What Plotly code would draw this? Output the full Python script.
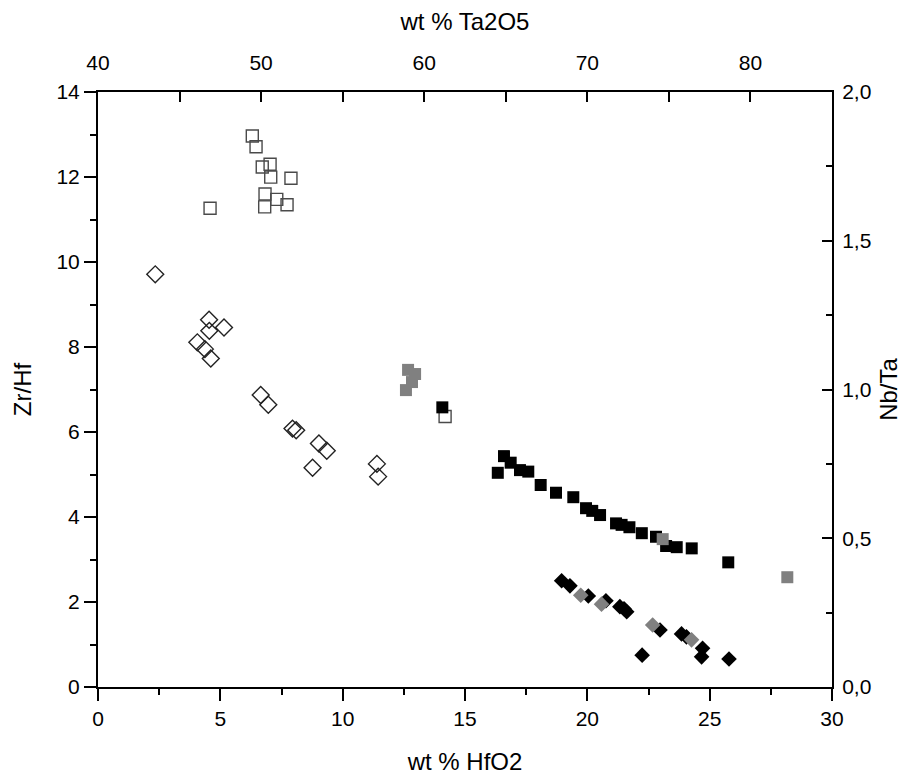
import plotly.graph_objects as go

# Diamonds: wt % HfO2 (bottom) vs Zr/Hf (left)
open_dia_hfo2 = [2.34, 4.54, 5.15, 4.55, 4.06, 4.37, 4.61, 6.65, 6.96, 7.95, 8.10, 9.03, 9.35, 8.77, 11.40, 11.45]
open_dia_zrhf = [9.71, 8.64, 8.46, 8.38, 8.11, 7.95, 7.73, 6.87, 6.64, 6.08, 6.04, 5.73, 5.56, 5.16, 5.25, 4.95]

black_dia_hfo2 = [18.95, 19.29, 20.04, 20.76, 21.33, 21.50, 21.61, 22.24, 22.97, 23.85, 24.05, 24.71, 24.67, 25.79]
black_dia_zrhf = [2.50, 2.38, 2.14, 2.03, 1.89, 1.84, 1.77, 0.75, 1.34, 1.25, 1.18, 0.91, 0.71, 0.66]

gray_dia_hfo2 = [19.73, 20.58, 22.67, 24.26]
gray_dia_zrhf = [2.16, 1.95, 1.46, 1.11]

# Squares: wt % Ta2O5 (top) vs Nb/Ta (right)
open_sq_ta2o5 = [49.46, 49.69, 50.55, 50.07, 50.59, 51.83, 50.24, 50.96, 50.22, 51.59, 46.87, 61.28]
open_sq_nbta = [1.852, 1.816, 1.757, 1.748, 1.714, 1.710, 1.657, 1.639, 1.614, 1.621, 1.609, 0.909]

gray_sq_ta2o5 = [59.01, 59.44, 59.25, 58.88, 74.62, 82.26]
gray_sq_nbta = [1.066, 1.052, 1.025, 0.998, 0.497, 0.369]

black_sq_ta2o5 = [61.11, 64.89, 65.30, 64.51, 65.87, 66.38, 67.14, 68.08, 69.14, 69.92, 70.30,
                  70.78, 71.76, 72.10, 72.58, 73.34, 74.21, 74.83, 75.48, 76.40, 78.64]
black_sq_nbta = [0.940, 0.776, 0.754, 0.720, 0.729, 0.724, 0.679, 0.653, 0.638, 0.601, 0.592,
                 0.578, 0.550, 0.545, 0.537, 0.517, 0.505, 0.474, 0.470, 0.466, 0.419]

FONT = "Liberation Sans, Arial, sans-serif"
GRAY = "#808080"

fig = go.Figure()

fig.add_trace(go.Scatter(x=open_dia_hfo2, y=open_dia_zrhf, mode="markers",
                         marker=dict(symbol="diamond-open", size=13, color="#222",
                                     line=dict(width=1.4, color="#222"))))
fig.add_trace(go.Scatter(x=black_dia_hfo2, y=black_dia_zrhf, mode="markers",
                         marker=dict(symbol="diamond", size=12, color="black", line=dict(width=0))))
fig.add_trace(go.Scatter(x=gray_dia_hfo2, y=gray_dia_zrhf, mode="markers",
                         marker=dict(symbol="diamond", size=12, color=GRAY, line=dict(width=0))))

fig.add_trace(go.Scatter(x=open_sq_ta2o5, y=open_sq_nbta, mode="markers", xaxis="x2", yaxis="y2",
                         marker=dict(symbol="square-open", size=12, color="#4a4a4a",
                                     line=dict(width=1.4, color="#4a4a4a"))))
fig.add_trace(go.Scatter(x=black_sq_ta2o5, y=black_sq_nbta, mode="markers", xaxis="x2", yaxis="y2",
                         marker=dict(symbol="square", size=12, color="black", line=dict(width=0))))
fig.add_trace(go.Scatter(x=gray_sq_ta2o5, y=gray_sq_nbta, mode="markers", xaxis="x2", yaxis="y2",
                         marker=dict(symbol="square", size=12, color=GRAY, line=dict(width=0))))

tickfont = dict(family=FONT, size=21, color="black")
titlefont = dict(family=FONT, size=24, color="black")

fig.update_layout(
    width=911, height=776,
    margin=dict(l=90, r=87, t=84, b=97),
    plot_bgcolor="white", paper_bgcolor="white",
    showlegend=False,
    separators=",.",
    font=dict(family=FONT, color="black"),
    xaxis=dict(range=[0, 30], tick0=0, dtick=5, ticks="outside", ticklen=12, tickwidth=1.5,
               tickcolor="black", showline=True, linewidth=2, linecolor="black",
               showgrid=False, zeroline=False, tickfont=tickfont, automargin=False,
               minor=dict(dtick=2.5, ticks="outside", ticklen=6, tickwidth=1.5, tickcolor="black"),
               title=dict(text="wt % HfO2", font=titlefont, standoff=24)),
    yaxis=dict(range=[0, 14], tick0=0, dtick=2, ticks="outside", ticklen=12, tickwidth=1.5,
               tickcolor="black", showline=True, linewidth=2, linecolor="black",
               showgrid=False, zeroline=False, tickfont=tickfont, automargin=False,
               minor=dict(dtick=1, ticks="outside", ticklen=6, tickwidth=1.5, tickcolor="black"),
               title=dict(text="Zr/Hf", font=titlefont, standoff=18)),
    xaxis2=dict(range=[40, 85], tick0=40, dtick=10, overlaying="x", side="top", anchor="y",
                ticks="inside", ticklen=10, tickwidth=1.5, tickcolor="black",
                showline=True, linewidth=2, linecolor="black", automargin=False,
                showgrid=False, zeroline=False, tickfont=tickfont, ticklabelstandoff=12,
                minor=dict(dtick=5, ticks="inside", ticklen=10, tickwidth=1.5, tickcolor="black"),
                title=dict(text="wt % Ta2O5", font=titlefont, standoff=18)),
    yaxis2=dict(range=[0, 2.0], tick0=0, dtick=0.5, overlaying="y", side="right", anchor="x",
                ticks="inside", ticklen=10, tickwidth=1.5, tickcolor="black", tickformat=".1f",
                showline=True, linewidth=2, linecolor="black", automargin=False,
                showgrid=False, zeroline=False, tickfont=tickfont, ticklabelstandoff=4,
                minor=dict(dtick=0.25, ticks="inside", ticklen=6, tickwidth=1.5, tickcolor="black"),
                title=dict(text="Nb/Ta", font=titlefont, standoff=10)),
)

fig.write_html("out.html")
